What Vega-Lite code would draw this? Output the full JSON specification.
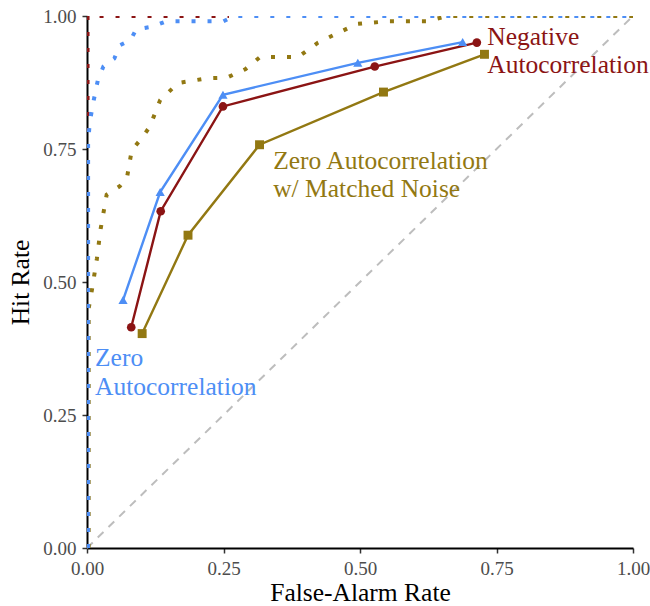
{
  "$schema": "https://vega.github.io/schema/vega-lite/v6.json",
  "width": 546,
  "height": 532,
  "autosize": {"type": "none"},
  "padding": {"left": 87, "top": 16, "right": 17, "bottom": 58},
  "background": "white",
  "config": {
    "view": {"stroke": null},
    "font": "Liberation Serif",
    "axis": {
      "grid": false,
      "domainColor": "black",
      "domainWidth": 2,
      "tickColor": "#333333",
      "tickWidth": 1.5,
      "tickSize": 5,
      "labelFont": "Liberation Serif",
      "labelFontSize": 19,
      "labelColor": "#4d4d4d",
      "labelPadding": 6,
      "labelFlush": false,
      "titleFont": "Liberation Serif",
      "titleFontSize": 25.5,
      "titleFontWeight": "normal",
      "titleColor": "black",
      "zindex": 1
    }
  },
  "datasets": {
    "diag": [{"fa": 0, "hit": 0}, {"fa": 1, "hit": 1}],
    "roc": [
      {"series": "neg", "ord": 1, "fa": 0.001, "hit": 0},
      {"series": "neg", "ord": 2, "fa": 0.001, "hit": 1},
      {"series": "neg", "ord": 3, "fa": 0.26, "hit": 1},
      {"series": "matched", "ord": 1, "fa": 0.003, "hit": 0},
      {"series": "matched", "ord": 2, "fa": 0.003, "hit": 0.45},
      {"series": "matched", "ord": 3, "fa": 0.009, "hit": 0.485},
      {"series": "matched", "ord": 4, "fa": 0.018, "hit": 0.543},
      {"series": "matched", "ord": 5, "fa": 0.025, "hit": 0.6},
      {"series": "matched", "ord": 6, "fa": 0.036, "hit": 0.664},
      {"series": "matched", "ord": 7, "fa": 0.06, "hit": 0.68},
      {"series": "matched", "ord": 8, "fa": 0.073, "hit": 0.695},
      {"series": "matched", "ord": 9, "fa": 0.082, "hit": 0.748},
      {"series": "matched", "ord": 10, "fa": 0.1, "hit": 0.77},
      {"series": "matched", "ord": 11, "fa": 0.115, "hit": 0.792},
      {"series": "matched", "ord": 12, "fa": 0.134, "hit": 0.842},
      {"series": "matched", "ord": 13, "fa": 0.167, "hit": 0.874},
      {"series": "matched", "ord": 14, "fa": 0.22, "hit": 0.883},
      {"series": "matched", "ord": 15, "fa": 0.256, "hit": 0.884},
      {"series": "matched", "ord": 16, "fa": 0.29, "hit": 0.9},
      {"series": "matched", "ord": 17, "fa": 0.317, "hit": 0.923},
      {"series": "matched", "ord": 18, "fa": 0.387, "hit": 0.923},
      {"series": "matched", "ord": 19, "fa": 0.423, "hit": 0.95},
      {"series": "matched", "ord": 20, "fa": 0.494, "hit": 0.985},
      {"series": "matched", "ord": 21, "fa": 0.55, "hit": 0.99},
      {"series": "matched", "ord": 22, "fa": 0.622, "hit": 0.99},
      {"series": "matched", "ord": 23, "fa": 0.66, "hit": 1},
      {"series": "matched", "ord": 24, "fa": 1, "hit": 1},
      {"series": "zero", "ord": 1, "fa": 0.002, "hit": 0},
      {"series": "zero", "ord": 2, "fa": 0.002, "hit": 0.76},
      {"series": "zero", "ord": 3, "fa": 0.005, "hit": 0.8},
      {"series": "zero", "ord": 4, "fa": 0.012, "hit": 0.84},
      {"series": "zero", "ord": 5, "fa": 0.02, "hit": 0.88},
      {"series": "zero", "ord": 6, "fa": 0.03, "hit": 0.905},
      {"series": "zero", "ord": 7, "fa": 0.05, "hit": 0.92},
      {"series": "zero", "ord": 8, "fa": 0.06, "hit": 0.945},
      {"series": "zero", "ord": 9, "fa": 0.08, "hit": 0.955},
      {"series": "zero", "ord": 10, "fa": 0.09, "hit": 0.975},
      {"series": "zero", "ord": 11, "fa": 0.12, "hit": 0.98},
      {"series": "zero", "ord": 12, "fa": 0.145, "hit": 0.99},
      {"series": "zero", "ord": 13, "fa": 0.25, "hit": 0.99},
      {"series": "zero", "ord": 14, "fa": 0.27, "hit": 1},
      {"series": "zero", "ord": 15, "fa": 1, "hit": 1}
    ],
    "emp": [
      {"series": "zero", "fa": 0.066, "hit": 0.466},
      {"series": "zero", "fa": 0.134, "hit": 0.669},
      {"series": "zero", "fa": 0.249, "hit": 0.852},
      {"series": "zero", "fa": 0.496, "hit": 0.912},
      {"series": "zero", "fa": 0.688, "hit": 0.951},
      {"series": "neg", "fa": 0.081, "hit": 0.415},
      {"series": "neg", "fa": 0.135, "hit": 0.633},
      {"series": "neg", "fa": 0.249, "hit": 0.83},
      {"series": "neg", "fa": 0.527, "hit": 0.905},
      {"series": "neg", "fa": 0.714, "hit": 0.95},
      {"series": "matched", "fa": 0.101, "hit": 0.403},
      {"series": "matched", "fa": 0.185, "hit": 0.588},
      {"series": "matched", "fa": 0.316, "hit": 0.758},
      {"series": "matched", "fa": 0.543, "hit": 0.857},
      {"series": "matched", "fa": 0.728, "hit": 0.928}
    ],
    "labels": [
      {"series": "neg", "fa": 0.733, "hit": 0.9455, "label": "Negative"},
      {"series": "neg", "fa": 0.733, "hit": 0.893, "label": "Autocorrelation"},
      {"series": "matched", "fa": 0.341, "hit": 0.712, "label": "Zero Autocorrelation"},
      {"series": "matched", "fa": 0.341, "hit": 0.66, "label": "w/ Matched Noise"},
      {"series": "zero", "fa": 0.0147, "hit": 0.342, "label": "Zero"},
      {"series": "zero", "fa": 0.0147, "hit": 0.288, "label": "Autocorrelation"}
    ]
  },
  "encoding": {
    "x": {"field": "fa", "type": "quantitative", "title": "False-Alarm Rate",
      "scale": {"domain": [0, 1], "nice": false},
      "axis": {"values": [0, 0.25, 0.5, 0.75, 1], "format": ".2f", "titlePadding": 2, "titleFontWeight": "normal"}},
    "y": {"field": "hit", "type": "quantitative", "title": "Hit Rate",
      "scale": {"domain": [0, 1], "nice": false},
      "axis": {"values": [0, 0.25, 0.5, 0.75, 1], "format": ".2f", "titlePadding": 9, "titleFontWeight": "normal"}}
  },
  "layer": [
    {
      "data": {"name": "diag"},
      "mark": {"type": "line", "color": "#bdbdbd", "strokeWidth": 2, "strokeDash": [8, 7]}
    },
    {
      "data": {"name": "roc"},
      "mark": {"type": "line", "strokeWidth": 4, "strokeDash": [4, 12], "clip": true},
      "encoding": {
        "order": {"field": "ord", "type": "quantitative"},
        "detail": {"field": "series"},
        "color": {"field": "series", "type": "nominal", "legend": null,
          "scale": {"domain": ["neg", "matched", "zero"], "range": ["#8b1414", "#927812", "#4d8ef5"]}}
      }
    },
    {
      "data": {"name": "emp"},
      "mark": {"type": "line", "strokeWidth": 2.4},
      "encoding": {
        "color": {"field": "series", "type": "nominal", "legend": null,
          "scale": {"domain": ["neg", "matched", "zero"], "range": ["#8b1414", "#927812", "#4d8ef5"]}}
      }
    },
    {
      "data": {"name": "emp"},
      "mark": {"type": "point", "filled": true, "opacity": 1},
      "encoding": {
        "color": {"field": "series", "type": "nominal", "legend": null,
          "scale": {"domain": ["neg", "matched", "zero"], "range": ["#8b1414", "#927812", "#4d8ef5"]}},
        "shape": {"field": "series", "type": "nominal", "legend": null,
          "scale": {"domain": ["neg", "matched", "zero"], "range": ["circle", "square", "triangle-up"]}},
        "size": {"field": "series", "type": "nominal", "legend": null,
          "scale": {"domain": ["neg", "matched", "zero"], "range": [75, 85, 150]}}
      }
    },
    {
      "data": {"name": "labels"},
      "mark": {"type": "text", "align": "left", "baseline": "alphabetic", "fontSize": 25.5, "font": "Liberation Serif"},
      "encoding": {
        "text": {"field": "label"},
        "color": {"field": "series", "type": "nominal", "legend": null,
          "scale": {"domain": ["neg", "matched", "zero"], "range": ["#8b1414", "#927812", "#4d8ef5"]}}
      }
    }
  ]
}
